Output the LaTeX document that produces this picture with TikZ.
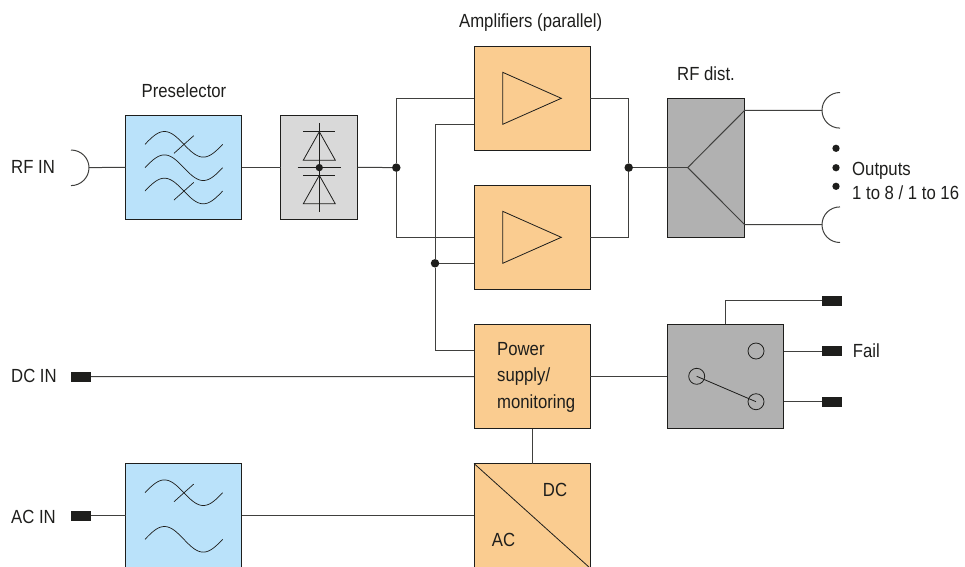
\documentclass[tikz,border=0pt]{standalone}
\usepackage{fontspec}
\setmainfont[FakeStretch=0.88]{Liberation Sans}
\definecolor{boxblue}{HTML}{BAE2FA}
\definecolor{boxorange}{HTML}{FACC90}
\definecolor{boxlight}{HTML}{D9D9D9}
\definecolor{boxdark}{HTML}{B1B1B1}
\definecolor{inkdark}{HTML}{1E1E1C}
\tikzset{
    block/.style={draw=inkdark, line width=1pt, inner sep=0pt, outer sep=0pt},
    port/.style={fill=inkdark, inner sep=0pt, minimum width=20pt, minimum height=10pt},
    junction/.style={circle, fill=inkdark, inner sep=0pt, minimum size=8.5pt},
    bullet/.style={circle, fill=inkdark, inner sep=0pt, minimum size=7.3pt},
    contact/.style={circle, draw=inkdark, line width=0.8pt, inner sep=0pt, minimum size=16pt},
    label/.style={font=\fontsize{19}{26.7}\selectfont, text=inkdark, inner sep=0pt},
    wire/.style={draw=inkdark!85, line width=1pt}
}
\begin{document}
\begin{tikzpicture}[x=1pt, y=-1pt]
    \path[use as bounding box, clip] (0,0) rectangle (965,566);

    % Blocks
    \node[block, fill=boxblue, minimum width=116pt, minimum height=104pt] (presel) at (183.6,167.3) {};
    \node[block, fill=boxlight, minimum width=77pt, minimum height=104pt] (limiter) at (319,167.3) {};
    \node[block, fill=boxorange, minimum width=116pt, minimum height=103.5pt] (amptop) at (532,98.3) {};
    \node[block, fill=boxorange, minimum width=116pt, minimum height=104pt] (ampbot) at (532,237.2) {};
    \node[block, fill=boxdark, minimum width=77.5pt, minimum height=139pt] (rfdist) at (706,167.6) {};
    \node[block, fill=boxorange, minimum width=116pt, minimum height=104.4pt] (power) at (532,376.5) {};
    \node[block, fill=boxdark, minimum width=116.4pt, minimum height=104.4pt] (relay) at (725.5,376.5) {};
    \node[block, fill=boxblue, minimum width=116pt, minimum height=104.4pt] (acfilter) at (183.6,515.7) {};
    \node[block, fill=boxorange, minimum width=116pt, minimum height=104.4pt] (conv) at (532,515.7) {};

    % Ports and junctions
    \node[port] (dcin) at (81,376.6) {};
    \node[port] (acin) at (81,515.7) {};
    \node[port] (relayA) at (832,300.7) {};
    \node[port] (relayB) at (832,351) {};
    \node[port] (relayC) at (832,401.7) {};
    \node[junction] (jin) at (396.3,167.6) {};
    \node[junction] (jout) at (628.7,167.6) {};
    \node[junction] (jpwr) at (435,263.3) {};
    \coordinate (rfin) at (89,167.6);
    \coordinate (outA) at (822,110.3);
    \coordinate (outB) at (822,224.7);
    \coordinate (splitA) at (744.7,110.3);
    \coordinate (splitB) at (744.7,224.7);
    \coordinate (split) at (687.7,167.6);
    \coordinate (amptopsup) at (474,124);
    \coordinate (ampbotsup) at (474,263.3);
    \coordinate (powersup) at (474,350.3);
    \coordinate (relayin) at (725.3,324.3);
    \coordinate (relayBout) at (783.7,351);
    \coordinate (relayCout) at (783.7,401.7);

    % Connectors
    \draw[wire] (rfin) -- (presel.west);
    \draw[wire] (presel.east) -- (limiter.west);
    \draw[wire] (limiter.east) -- (jin);
    \draw[wire] (jin) |- (amptop.west);
    \draw[wire] (jin) |- (ampbot.west);
    \draw[wire] (amptop.east) -| (jout);
    \draw[wire] (ampbot.east) -| (jout);
    \draw[wire] (jout) -- (split);
    \draw[wire] (split) -- (splitA) -- (outA);
    \draw[wire] (split) -- (splitB) -- (outB);
    \draw[wire] (amptopsup) -| (jpwr);
    \draw[wire] (jpwr) -- (ampbotsup);
    \draw[wire] (jpwr) |- (powersup);
    \draw[wire] (dcin) -- (power.west);
    \draw[wire] (power.east) -- (relay.west);
    \draw[wire] (relayin) |- (relayA);
    \draw[wire] (relayBout) -- (relayB);
    \draw[wire] (relayCout) -- (relayC);
    \draw[wire] (acin) -- (acfilter.west);
    \draw[wire] (acfilter.east) -- (conv.west);
    \draw[wire] (power.south) -- (conv.north);

    % Connector mouths
    \draw[wire] (71,150) .. controls (81,150) and (89,158) .. (89,167.6) .. controls (89,177.5) and (81,185.6) .. (71,185.6);
    \foreach \oy in {110.3,224.7}
        \draw[wire] (840,\oy-17.8) .. controls (830,\oy-17.8) and (822,\oy-10) .. (822,\oy) .. controls (822,\oy+10) and (830,\oy+17.8) .. (840,\oy+17.8);

    % Filter curves
    \foreach \wy in {144.3,167.7,191,492.7,539.3}
        \draw[inkdark, line width=0.7pt, domain=0:360, samples=60, smooth, variable=\t]
            plot ({145+\t/360*77.7},{\wy-12.8*sin(\t)});
    \foreach \wy in {144.3,191,492.7}
        \draw[inkdark, line width=0.7pt] (174,\wy+9) -- (193.7,\wy-8.6);

    % Limiter diodes
    \draw[inkdark, line width=0.8pt] (319.3,123) -- (319.3,211.7);
    \draw[inkdark, line width=0.8pt] (297.7,167.6) -- (340.7,167.6);
    \foreach \dy in {131.7,175.3} {
        \draw[inkdark, line width=0.8pt] (303.3,\dy) -- (335.3,\dy);
        \draw[inkdark, line width=0.8pt] (319.3,\dy) -- (335.3,\dy+28.5) -- (303.3,\dy+28.5) -- cycle;
    }
    \node[bullet] (jdiode) at (319.3,167.6) {};

    % Amplifier triangles
    \foreach \ay in {98.3,237.3}
        \draw[inkdark, line width=0.8pt] (502.7,\ay-26) -- (561.3,\ay) -- (502.7,\ay+26) -- cycle;

    % Converter diagonal
    \draw[inkdark, line width=0.8pt] (conv.north west) -- (590,568);

    % Relay contacts
    \node[contact] (contactA) at (756,351) {};
    \node[contact] (contactB) at (696.7,376.3) {};
    \node[contact] (contactC) at (756,401.7) {};
    \draw[inkdark, line width=0.8pt] (contactB.center) -- (contactC.center);

    % Output dots
    \foreach \dy/\dname in {148.3/dotA,167.7/dotB,186.3/dotC}
        \node[bullet] (\dname) at (836,\dy) {};

    % Labels
    \node[label, anchor=base] (lblamps) at (530.7,27.7) {Amplifiers (parallel)};
    \node[label, anchor=base] (lblpresel) at (184,97.3) {Preselector};
    \node[label, anchor=base] (lbldist) at (706,80) {RF dist.};
    \node[label, anchor=base west] (lblrf) at (11,173.3) {RF IN};
    \node[label, anchor=base west] (lbldc) at (11,382.7) {DC IN};
    \node[label, anchor=base west] (lblac) at (11,523.7) {AC IN};
    \node[label, anchor=base west] (lblout) at (852,175) {Outputs};
    \node[label, anchor=base west] (lblout2) at (852,199) {1 to 8 / 1 to 16};
    \node[label, anchor=base west] (lblfail) at (852.7,357.7) {Fail};
    \node[label, anchor=west, align=left] (lblpower) at (497,377.4) {Power\\supply/\\monitoring};
    \node[label, anchor=base] (lbldcout) at (555,496.7) {DC};
    \node[label, anchor=base] (lblacin) at (503.5,546.7) {AC};
\end{tikzpicture}
\end{document}
